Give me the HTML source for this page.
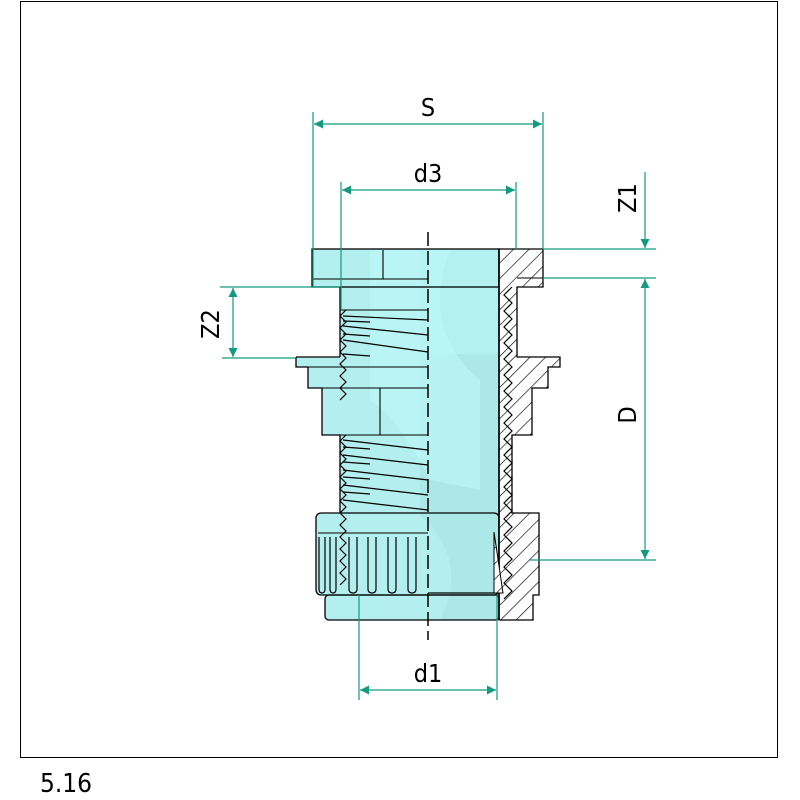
<!DOCTYPE html>
<html><head><meta charset="utf-8"><style>
html,body{margin:0;padding:0;background:#fff;}
svg{display:block;}
text{font-family:"DejaVu Sans Condensed","Liberation Sans",sans-serif;fill:#000;}
</style></head><body>
<svg width="800" height="800" viewBox="0 0 800 800" xmlns="http://www.w3.org/2000/svg">
<defs>
<pattern id="h" width="11" height="11" patternUnits="userSpaceOnUse" patternTransform="rotate(45)">
<rect width="11" height="11" fill="#fff"/><line x1="0" y1="0" x2="0" y2="11" stroke="#000" stroke-width="1.3"/>
</pattern>
<marker id="a" viewBox="0 0 10 10" refX="10" refY="5" markerWidth="16" markerHeight="9" markerUnits="userSpaceOnUse" orient="auto-start-reverse">
<path d="M0,0 L10,5 L0,10 z" fill="#139a80"/></marker>
</defs>
<rect x="20.5" y="1.5" width="757" height="756" fill="none" stroke="#000" stroke-width="1"/>

<!-- cyan fills -->
<g fill="#b3efef" stroke="none">
<rect x="312" y="249" width="187" height="38"/>
<rect x="340" y="287" width="159" height="70"/>
<rect x="296" y="357" width="203" height="10"/>
<rect x="308" y="367" width="191" height="21"/>
<rect x="322" y="388" width="177" height="47"/>
<rect x="340" y="435" width="159" height="78"/>
<rect x="316" y="513" width="183" height="82" rx="5"/>
<rect x="325" y="595" width="174" height="25" rx="4"/>
</g>
<path d="M420,250 L498,250 L498,620 L440,620 Q470,560 420,515 Z" fill="#ade8e8"/>
<path d="M370,250 L450,250 Q420,330 480,380 L480,490 L430,480 Q400,420 370,400 Z" fill="#bdf8f8" opacity="0.6"/>
<rect x="428" y="250" width="70" height="104" fill="#b9f7f7" opacity="0.5"/>
<!-- outlines -->
<g stroke="#000" stroke-width="1.3" fill="none">
<rect x="312" y="249" width="187" height="38"/>
<path d="M340,287 V357 M296,357 H340 M296,357 v10 h12 v21 h14 v47 h18 v78 M316,513 v0"/>
<rect x="316" y="513" width="183" height="82" rx="5"/>
<rect x="325" y="595" width="174" height="25" rx="4"/>
</g>
<g stroke="#000" stroke-width="1.1">
<line x1="313" y1="279" x2="428" y2="279"/>
<line x1="383" y1="250" x2="383" y2="279"/>
<line x1="380" y1="388" x2="380" y2="435"/>
<line x1="340" y1="310" x2="428" y2="310"/>
<line x1="296" y1="367" x2="428" y2="367"/>
<line x1="308" y1="388" x2="428" y2="388"/>
<line x1="322" y1="435" x2="428" y2="435"/>
<line x1="318" y1="533" x2="428" y2="533"/>
<line x1="428" y1="593" x2="497" y2="593" stroke-width="1.3"/>
</g>
<!-- threads -->
<g stroke="#000" stroke-width="1.2" fill="none">
<path d="M346,310 l-6,6 l6,6 l-6,6 l6,6 l-6,6 l6,6 l-6,6 l6,6 l-6,6 l6,6 l-6,6 l6,6 l-6,6 l6,6 l-6,6"/>
<path d="M346,435 l-6,6 l6,6 l-6,6 l6,6 l-6,6 l6,6 l-6,6 l6,6 l-6,6 l6,6 l-6,6 l6,6 l-6,6 l6,6 l-6,6 l6,6 l-6,6 l6,6 l-6,6 l6,6 l-6,6 l6,6 l-6,6 l6,6 l-6,6"/>
<path d="M343,316 L428,320 M343,326 L428,335 M343,340 L428,352 M343,354 L370,356 M343,321 L370,322 M343,334 L370,336"/>
<path d="M343,440 L428,450 M343,455 L428,465 M343,470 L428,480 M343,485 L428,495 M343,500 L428,510 M343,447 L370,449 M343,462 L370,464 M343,477 L370,479 M343,492 L370,494"/>
<path d="M319,537 v52 q0,4 3,4 q3,0 3,-4 v-52 M330,537 v52 q0,4 3,4 q3,0 3,-4 v-52 M349,537 v52 q0,4 4,4 q4,0 4,-4 v-52 M368,537 v52 q0,4 4,4 q4,0 4,-4 v-52 M388,537 v52 q0,4 4,4 q4,0 4,-4 v-52 M408,537 v52 q0,4 4,4 q4,0 4,-4 v-52"/>
</g>
<!-- hatched section -->
<path d="M499,249 L543,249 L543,287 L517,287 L517,357 L560,357 L560,367 L548,367 L548,388 L532,388 L532,435 L512,435 L512,513 L539,513 L539,595 L533,595 L533,620 L499,620 Z" fill="url(#h)" stroke="#000" stroke-width="1.3"/>
<path d="M512,287 l-8,8 l8,8 l-8,8 l8,8 l-8,8 l8,8 l-8,8 l8,8 l-8,8 l8,8 l-8,8 l8,8 l-8,8 l8,8 l-8,8 l8,8 l-8,8 l8,8 l-8,8 l8,8 l-8,8 l8,8 l-8,8 l8,8 l-8,8 l8,8 l-8,8 l8,8 l-8,8 l8,8 l-8,8 l8,8 l-8,8 l8,8 l-8,8 l8,8 l-8,8 l8,8 l-8,8" fill="none" stroke="#000" stroke-width="1.2"/>
<line x1="517" y1="278" x2="543" y2="278" stroke="#000"/>
<line x1="499" y1="249" x2="499" y2="620" stroke="#000" stroke-width="1.6"/>
<path d="M494,532 L503,593 L494,593 Z" fill="url(#h)" stroke="#000"/>
<!-- centerline -->
<line x1="428" y1="232" x2="428" y2="640" stroke="#000" stroke-width="1.5" stroke-dasharray="14,5"/>

<!-- dimensions -->
<g stroke="#139a80" stroke-width="1.2" fill="none">
<line x1="313" y1="112" x2="313" y2="287"/>
<line x1="543" y1="112" x2="543" y2="249"/>
<line x1="314" y1="124" x2="542" y2="124" marker-start="url(#a)" marker-end="url(#a)"/>
<line x1="341" y1="182" x2="341" y2="310"/>
<line x1="516" y1="182" x2="516" y2="249"/>
<line x1="342" y1="190" x2="515" y2="190" marker-start="url(#a)" marker-end="url(#a)"/>
<line x1="543" y1="249" x2="656" y2="249"/>
<line x1="543" y1="278" x2="656" y2="278"/>
<line x1="530" y1="560" x2="656" y2="560"/>
<line x1="645" y1="172" x2="645" y2="248" marker-end="url(#a)"/>
<line x1="645" y1="279" x2="645" y2="559" marker-start="url(#a)" marker-end="url(#a)"/>
<line x1="220" y1="287" x2="340" y2="287"/>
<line x1="222" y1="358" x2="296" y2="358"/>
<line x1="233" y1="288" x2="233" y2="357" marker-start="url(#a)" marker-end="url(#a)"/>
<line x1="359" y1="595" x2="359" y2="700"/>
<line x1="497" y1="595" x2="497" y2="700"/>
<line x1="360" y1="690" x2="496" y2="690" marker-start="url(#a)" marker-end="url(#a)"/>
</g>
<g font-size="25">
<text x="428" y="116" text-anchor="middle">S</text>
<text x="428" y="182" text-anchor="middle">d3</text>
<text x="428" y="682" text-anchor="middle">d1</text>
<text transform="translate(636,198) rotate(-90)" text-anchor="middle">Z1</text>
<text transform="translate(636,415) rotate(-90)" text-anchor="middle">D</text>
<text transform="translate(219,324) rotate(-90)" text-anchor="middle">Z2</text>
<text x="40" y="792" font-size="26">5.16</text>
</g>
</svg>
</body></html>
